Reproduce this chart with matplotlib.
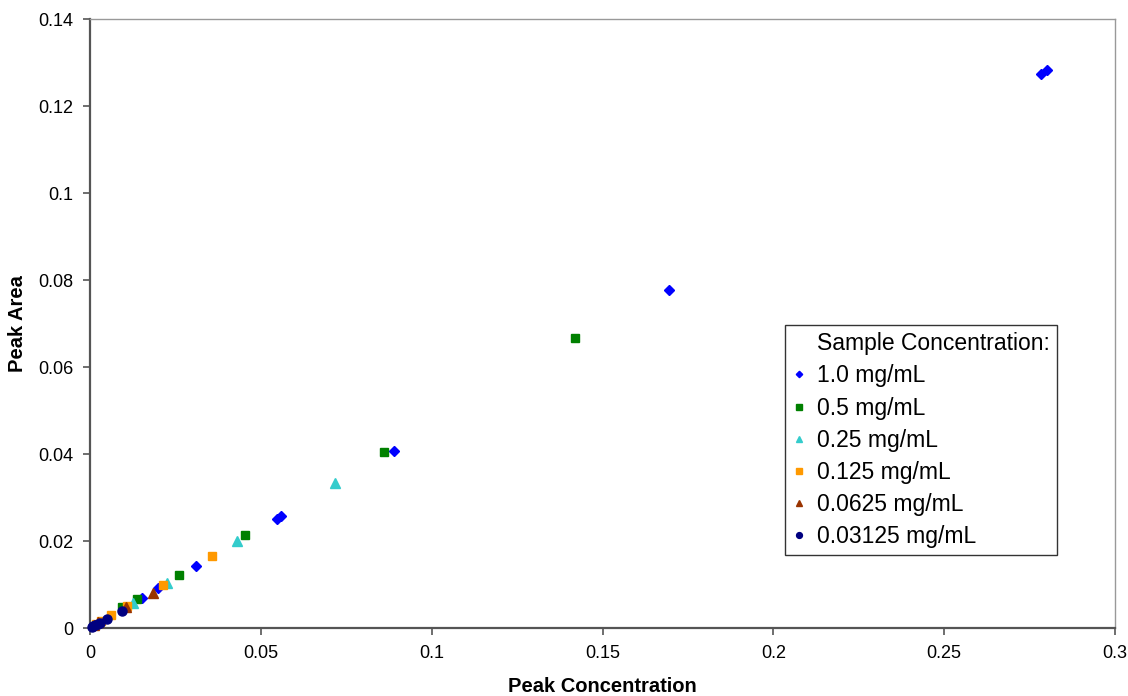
import matplotlib
matplotlib.use("Agg")
import matplotlib.pyplot as plt
from matplotlib.ticker import FuncFormatter

# Values (peak concentration, peak area)
labels = ["1.0 mg/mL", "0.5 mg/mL", "0.25 mg/mL", "0.125 mg/mL",
          "0.0625 mg/mL", "0.03125 mg/mL"]

x_1000 = [0.2782, 0.2801, 0.1695, 0.0889, 0.0546, 0.0559, 0.0310, 0.0200, 0.0151]
y_1000 = [0.1274, 0.1282, 0.0777, 0.0407, 0.0252, 0.0258, 0.0142, 0.0093, 0.0070]

x_500 = [0.1418, 0.0859, 0.0453, 0.0260, 0.0138, 0.0093]
y_500 = [0.0667, 0.0404, 0.0214, 0.0122, 0.0067, 0.0050]

x_250 = [0.0718, 0.0430, 0.0225, 0.0127]
y_250 = [0.0334, 0.0201, 0.0105, 0.0058]

x_125 = [0.0358, 0.0213, 0.0109, 0.0061, 0.0032, 0.0018]
y_125 = [0.0167, 0.0100, 0.0052, 0.0031, 0.0017, 0.0009]

x_0625 = [0.0183, 0.0106, 0.0024, 0.0013]
y_0625 = [0.0081, 0.0049, 0.0014, 0.0007]

x_03125 = [0.0093, 0.0051, 0.0028, 0.0022, 0.0016, 0.0010, 0.0005]
y_03125 = [0.0040, 0.0022, 0.0012, 0.0010, 0.0007, 0.0005, 0.0002]

x_ticks = [0, 0.05, 0.1, 0.15, 0.2, 0.25, 0.3]
y_ticks = [0, 0.02, 0.04, 0.06, 0.08, 0.1, 0.12, 0.14]


def main():
    plt.rcParams['font.family'] = ['Liberation Sans', 'DejaVu Sans']

    fig = plt.figure(figsize=(11.28, 6.96), dpi=100)
    ax = fig.add_axes([0.0798, 0.0973, 0.9087, 0.8754])

    series = [
        (x_1000, y_1000, 'D', 5.0, '#0000FF'),
        (x_500, y_500, 's', 6.0, '#008000'),
        (x_250, y_250, '^', 6.5, '#33CCCC'),
        (x_125, y_125, 's', 6.0, '#FF9900'),
        (x_0625, y_0625, '^', 6.5, '#993300'),
        (x_03125, y_03125, 'o', 6.5, '#000080'),
    ]

    # empty first entry so the heading lines up with the labels
    ax.plot([], [], ' ', label='Sample Concentration:')
    for (xs, ys, mk, ms, col), lab in zip(series, labels):
        ax.plot(xs, ys, linestyle='none', marker=mk, markersize=ms,
                color=col, markeredgecolor=col, label=lab, clip_on=False,
                zorder=3)

    ax.set_xlim(0, 0.3)
    ax.set_ylim(0, 0.14)
    ax.set_xticks(x_ticks)
    ax.set_yticks(y_ticks)
    ax.xaxis.set_major_formatter(FuncFormatter(lambda v, p: '%g' % round(v, 4)))
    ax.yaxis.set_major_formatter(FuncFormatter(lambda v, p: '%g' % round(v, 4)))
    ax.tick_params(direction='out', length=5, width=1.2, pad=7,
                   labelsize=13, color='#555555')

    ax.spines['left'].set_color('#555555')
    ax.spines['bottom'].set_color('#555555')
    ax.spines['left'].set_linewidth(1.6)
    ax.spines['bottom'].set_linewidth(1.6)
    ax.spines['top'].set_color('#999999')
    ax.spines['right'].set_color('#999999')
    ax.spines['top'].set_linewidth(1.0)
    ax.spines['right'].set_linewidth(1.0)

    ax.set_xlabel('Peak Concentration', fontsize=14.5, fontweight='bold',
                  labelpad=11)
    ax.set_ylabel('Peak Area', fontsize=14.5, fontweight='bold', labelpad=8)

    leg = ax.legend(loc='lower left', bbox_to_anchor=(0.678, 0.12),
                    fontsize=16.5, frameon=True, fancybox=False,
                    edgecolor='#333333', framealpha=1, markerscale=0.65,
                    handlelength=0.6, handletextpad=0.5, labelspacing=0.40,
                    borderpad=0.3, borderaxespad=0)
    leg.get_frame().set_linewidth(1.0)

    fig.savefig('out.png', dpi=100)


if __name__ == "__main__":
    main()
